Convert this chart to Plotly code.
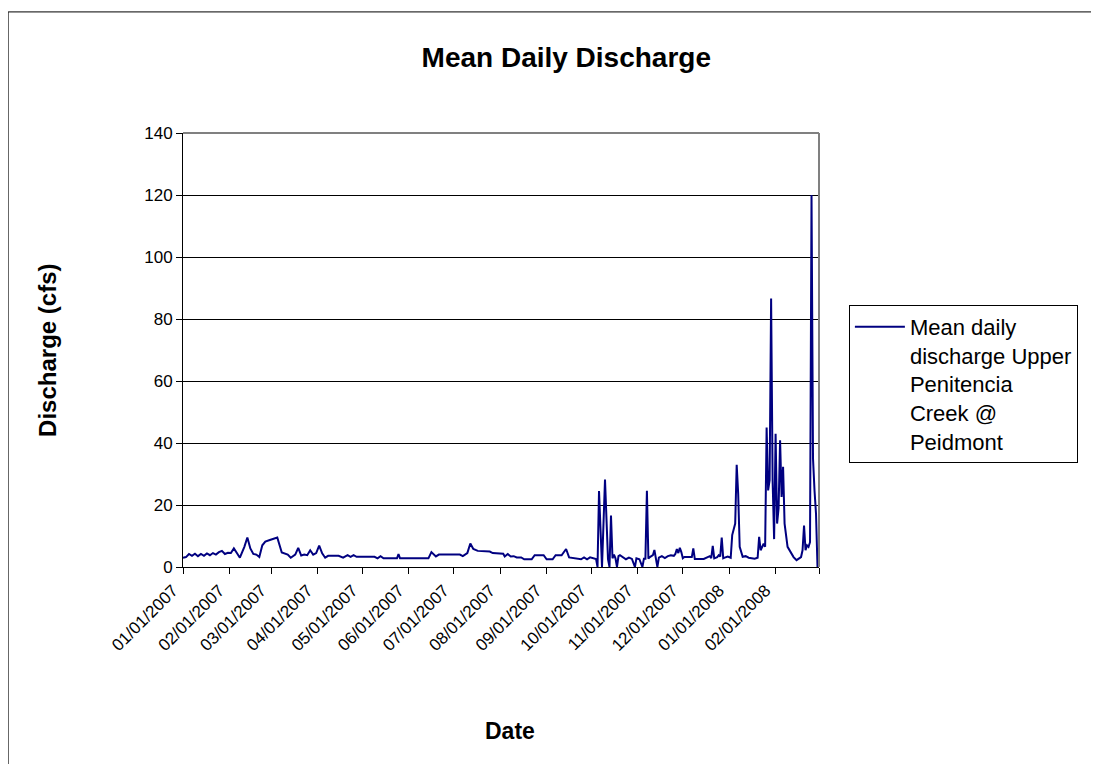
import plotly.graph_objects as go

# values (cfs)
DATES = [
    "2007-01-01", "2007-01-03", "2007-01-05", "2007-01-07", "2007-01-09", "2007-01-11",
    "2007-01-13", "2007-01-15", "2007-01-17", "2007-01-19", "2007-01-21", "2007-01-23",
    "2007-01-25", "2007-01-27", "2007-01-29", "2007-01-31", "2007-02-02", "2007-02-04",
    "2007-02-06", "2007-02-08", "2007-02-11", "2007-02-13", "2007-02-15", "2007-02-17",
    "2007-02-19", "2007-02-21", "2007-02-23", "2007-02-25", "2007-02-28", "2007-03-03",
    "2007-03-05", "2007-03-08", "2007-03-10", "2007-03-12", "2007-03-14", "2007-03-17",
    "2007-03-19", "2007-03-21", "2007-03-23", "2007-03-25", "2007-03-27", "2007-03-29",
    "2007-03-31", "2007-04-02", "2007-04-04", "2007-04-06", "2007-04-08", "2007-04-15",
    "2007-04-18", "2007-04-21", "2007-04-23", "2007-04-25", "2007-04-27", "2007-05-09",
    "2007-05-11", "2007-05-13", "2007-05-15", "2007-05-24", "2007-05-25", "2007-05-26",
    "2007-06-14", "2007-06-16", "2007-06-19", "2007-06-21", "2007-07-05", "2007-07-07",
    "2007-07-10", "2007-07-12", "2007-07-14", "2007-07-17", "2007-07-25", "2007-07-27",
    "2007-08-03", "2007-08-04", "2007-08-06", "2007-08-08", "2007-08-10", "2007-08-12",
    "2007-08-15", "2007-08-17", "2007-08-22", "2007-08-24", "2007-08-30", "2007-09-01",
    "2007-09-05", "2007-09-07", "2007-09-11", "2007-09-14", "2007-09-16", "2007-09-24",
    "2007-09-26", "2007-09-28", "2007-09-30", "2007-10-04", "2007-10-05", "2007-10-06",
    "2007-10-08", "2007-10-10", "2007-10-12", "2007-10-13", "2007-10-14", "2007-10-15",
    "2007-10-16", "2007-10-17", "2007-10-18", "2007-10-19", "2007-10-20", "2007-10-22",
    "2007-10-24", "2007-10-26", "2007-10-28", "2007-10-30", "2007-10-31", "2007-11-02",
    "2007-11-04", "2007-11-05", "2007-11-06", "2007-11-07", "2007-11-08", "2007-11-09",
    "2007-11-11", "2007-11-12", "2007-11-13", "2007-11-14", "2007-11-15", "2007-11-17",
    "2007-11-19", "2007-11-21", "2007-11-23", "2007-11-25", "2007-11-26", "2007-11-27",
    "2007-11-28", "2007-11-29", "2007-11-30", "2007-12-01", "2007-12-02", "2007-12-07",
    "2007-12-08", "2007-12-09", "2007-12-15", "2007-12-18", "2007-12-19", "2007-12-20",
    "2007-12-21", "2007-12-22", "2007-12-24", "2007-12-25", "2007-12-26", "2007-12-27",
    "2007-12-28", "2007-12-29", "2007-12-31", "2008-01-02", "2008-01-03", "2008-01-05",
    "2008-01-06", "2008-01-07", "2008-01-08", "2008-01-10", "2008-01-12", "2008-01-14",
    "2008-01-16", "2008-01-18", "2008-01-20", "2008-01-21", "2008-01-22", "2008-01-24",
    "2008-01-25", "2008-01-26", "2008-01-27", "2008-01-28", "2008-01-29", "2008-01-30",
    "2008-01-31", "2008-02-01", "2008-02-02", "2008-02-03", "2008-02-04", "2008-02-05",
    "2008-02-06", "2008-02-07", "2008-02-09", "2008-02-11", "2008-02-13", "2008-02-15",
    "2008-02-17", "2008-02-18", "2008-02-19", "2008-02-20", "2008-02-21", "2008-02-22",
    "2008-02-23", "2008-02-24", "2008-02-25", "2008-02-26", "2008-02-27", "2008-02-28",
    "2008-02-29",
]
DISCHARGE = [
    3.0, 3.2, 4.2, 3.6, 4.3, 3.5,
    4.2, 3.6, 4.4, 3.8, 4.5, 4.0,
    4.8, 5.2, 4.2, 4.6, 4.5, 6.0,
    4.5, 3.0, 6.5, 9.5, 6.0, 4.2,
    4.0, 3.2, 7.0, 8.2, 8.7, 9.2,
    9.5, 4.7, 4.4, 4.0, 3.0, 4.0,
    6.2, 3.7, 4.0, 3.8, 5.4, 4.0,
    4.5, 6.9, 4.4, 3.0, 3.6, 3.6,
    3.0, 3.8, 3.3, 3.8, 3.3, 3.3,
    2.8, 3.5, 2.8, 2.8, 4.2, 2.8,
    2.8, 4.8, 3.4, 4.0, 4.0, 3.5,
    4.5, 7.6, 5.8, 5.2, 5.0, 4.5,
    4.3, 3.4, 4.2, 3.4, 3.5, 3.1,
    3.1, 2.5, 2.5, 3.8, 3.8, 2.5,
    2.5, 3.8, 3.8, 5.8, 3.1, 2.5,
    3.1, 2.5, 3.1, 2.6, 0.0, 24.5,
    0.0, 28.2, 2.5, 0.0, 16.6, 2.8,
    4.0, 2.8, 0.0, 3.5, 3.8, 3.2,
    2.5, 3.0, 2.6, 0.0, 2.8, 2.5,
    0.0, 2.7, 2.7, 24.6, 2.7, 3.2,
    3.8, 5.5, 2.5, 0.0, 3.0, 3.5,
    2.9, 3.5, 3.8, 3.6, 4.2, 5.8,
    4.5, 6.2, 4.8, 2.8, 3.2, 3.2,
    6.0, 2.6, 2.6, 3.1, 3.5, 2.9,
    6.8, 2.8, 3.2, 3.8, 3.4, 9.5,
    2.8, 3.0, 3.4, 3.0, 10.3, 14.0,
    33.0, 23.5, 6.5, 3.3, 3.5, 3.0,
    2.8, 2.7, 3.0, 9.7, 5.4, 7.5,
    6.5, 45.0, 24.7, 28.0, 86.6, 28.0,
    9.0, 43.0, 14.0, 19.0, 40.9, 22.6,
    32.3, 14.0, 6.5, 5.0, 3.2, 2.2,
    2.7, 3.2, 5.4, 13.4, 5.4, 7.0,
    6.5, 8.0, 120.0, 35.0, 24.7, 17.2,
    0.0,
]

MONTH_TICKS = [
    "2007-01-01", "2007-02-01", "2007-03-01", "2007-04-01", "2007-05-01",
    "2007-06-01", "2007-07-01", "2007-08-01", "2007-09-01", "2007-10-01",
    "2007-11-01", "2007-12-01", "2008-01-01", "2008-02-01", "2008-03-01",
]
MONTH_LABELS = [
    "01/01/2007", "02/01/2007", "03/01/2007", "04/01/2007", "05/01/2007",
    "06/01/2007", "07/01/2007", "08/01/2007", "09/01/2007", "10/01/2007",
    "11/01/2007", "12/01/2007", "01/01/2008", "02/01/2008", "",
]
Y_TICKS = [0, 20, 40, 60, 80, 100, 120, 140]

SERIES_NAME = "Mean daily<br>discharge Upper<br>Penitencia<br>Creek @<br>Peidmont"
FONT = "Liberation Sans, Arial, sans-serif"
NAVY = "#000080"

fig = go.Figure()
fig.add_trace(go.Scatter(
    x=DATES, y=DISCHARGE, mode="lines", name=SERIES_NAME,
    line=dict(color=NAVY, width=2),
))

# the page adds an 8px body margin, so margins are trimmed by 8 px
fig.update_layout(
    width=1099, height=764,
    margin=dict(l=175, r=288, t=125, b=205),
    paper_bgcolor="white", plot_bgcolor="white",
    font=dict(family=FONT, color="black", size=17),
    title=dict(text="<b>Mean Daily Discharge</b>", x=0.508, y=0.935,
               xanchor="center", yanchor="middle",
               font=dict(size=28, family=FONT, color="black")),
    showlegend=True,
    legend=dict(x=1.047, y=0.604, xanchor="left", yanchor="top",
                bordercolor="black", borderwidth=1, bgcolor="white",
                font=dict(size=22, family=FONT, color="black"),
                valign="top", itemwidth=50, tracegroupgap=0),
    xaxis=dict(
        type="date", range=["2007-01-01", "2008-03-01"],
        tickmode="array", tickvals=MONTH_TICKS, ticktext=MONTH_LABELS,
        tickangle=-45, ticks="outside", ticklen=6, tickcolor="black",
        ticklabelshift=-10,
        showgrid=False, showline=True, linecolor="black", linewidth=1,
        tickfont=dict(size=17), zeroline=False,
    ),
    yaxis=dict(
        range=[0, 140], tickmode="array", tickvals=Y_TICKS,
        ticks="outside", ticklen=6, tickcolor="black",
        showgrid=True, gridcolor="black", gridwidth=1,
        showline=True, linecolor="black", linewidth=1,
        tickfont=dict(size=17), zeroline=False,
    ),
    annotations=[
        dict(text="<b>Date</b>", x=0.514, y=-0.378, xref="paper", yref="paper",
             showarrow=False, font=dict(size=23), xanchor="center", yanchor="middle"),
        dict(text="<b>Discharge (cfs)</b>", x=-0.214, y=0.5, xref="paper", yref="paper",
             showarrow=False, textangle=-90, font=dict(size=24),
             xanchor="center", yanchor="middle"),
    ],
    shapes=[
        # outer chart border (runs off the right and bottom of the image)
        dict(type="rect", xref="paper", yref="paper", x0=-0.275, y0=-0.5, x1=1.5, y1=1.279,
             line=dict(color="black", width=1), layer="below"),
        # grey plot-area frame on top and right
        dict(type="line", xref="paper", yref="paper", x0=0, y0=1, x1=1, y1=1,
             line=dict(color="#808080", width=2), layer="above"),
        dict(type="line", xref="paper", yref="paper", x0=1, y0=0, x1=1, y1=1,
             line=dict(color="#808080", width=2), layer="above"),
    ],
)

fig.write_html("out.html")
